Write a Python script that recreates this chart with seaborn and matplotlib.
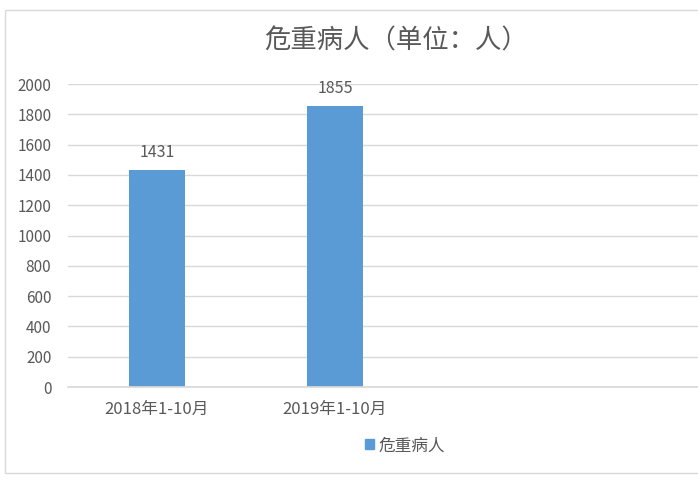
import matplotlib
matplotlib.use("Agg")
import matplotlib.pyplot as plt
import matplotlib.patches as mpatches
import pandas as pd
import seaborn as sns

# data
categories = ["2018年1-10月", "2019年1-10月"]
values = [1431, 1855]
series_name = "危重病人"
title = "危重病人（单位：人）"

sns.set_theme(style="white")
plt.rcParams["font.family"] = ["Noto Sans CJK SC", "DejaVu Sans"]

df = pd.DataFrame({"period": categories, "count": values})

fig = plt.figure(figsize=(6.98, 4.83), dpi=100)
ax = fig.add_axes([68 / 698, 96 / 483, 630 / 698, 303 / 483])

# outer chart border
fig.patches.append(mpatches.Rectangle((5 / 698, 10 / 483), 1.0, 463 / 483,
                                      transform=fig.transFigure, fill=False,
                                      edgecolor="#d9d9d9", linewidth=1))

sns.barplot(data=df, x="period", y="count", color="#5B9BD5", width=0.31,
            saturation=1, linewidth=0, ax=ax)

ax.set_xlim(-0.5, 3.04)
ax.set_ylim(0, 2000)
ax.set_yticks(range(0, 2001, 200))
ax.yaxis.grid(True, color="#d9d9d9", linewidth=1)
ax.set_axisbelow(True)
for s in ["top", "right", "left"]:
    ax.spines[s].set_visible(False)
ax.spines["bottom"].set_color("#d9d9d9")
ax.tick_params(axis="both", length=0, labelsize=11, colors="#595959")
ax.tick_params(axis="x", pad=10, labelsize=12)
ax.tick_params(axis="y", pad=12)
ax.set_xlabel("")
ax.set_ylabel("")

for i, v in enumerate(values):
    ax.text(i, v + 60, str(v), ha="center", va="bottom", fontsize=11.5, color="#595959")

fig.text(0.568, 0.915, title, ha="center", va="center", fontsize=19, color="#595959")

# legend
handle = mpatches.Patch(color="#5B9BD5", label=series_name)
fig.legend(handles=[handle], loc="center", bbox_to_anchor=(0.58, 0.077), frameon=False,
           fontsize=12, handlelength=0.55, handleheight=0.55, handletextpad=0.3,
           labelcolor="#595959")

fig.savefig("out.png", dpi=100)
